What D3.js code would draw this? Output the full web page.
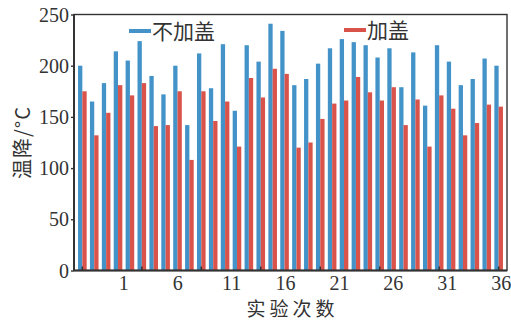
<!DOCTYPE html>
<html>
<head>
<meta charset="utf-8">
<script src="https://cdn.jsdelivr.net/npm/d3@7/dist/d3.min.js"></script>
<style>
  html, body { margin: 0; padding: 0; background: #fff; }
  svg { display: block; }
  .num { font-family: "Liberation Serif", "DejaVu Serif", serif; font-size: 20px; fill: #333; }
  .cjk { font-family: "Noto Sans CJK SC", sans-serif; fill: #333; }
</style>
</head>
<body>
<svg id="chart" width="511" height="321"></svg>
<script>
// Experiment numbers 1..36
const runs = d3.range(1, 37);

// Temperature drop (°C) per run, without and with a lid
const openDrop = [200, 165, 183, 214, 205, 224, 190, 172, 200, 142,
                  212, 178, 221, 156, 220, 204, 241, 234, 181, 187,
                  202, 217, 226, 223, 220, 208, 217, 179, 213, 161,
                  220, 204, 181, 187, 207, 200];
const lidDrop  = [175, 132, 154, 181, 171, 183, 141, 142, 175, 108,
                  175, 146, 165, 121, 188, 169, 197, 192, 120, 125,
                  148, 163, 166, 189, 174, 166, 179, 142, 167, 121,
                  171, 158, 132, 144, 162, 160];

const seriesNames = ["不加盖", "加盖"];
const seriesColors = ["#4393c9", "#d9534a"];
const yTicks = [0, 50, 100, 150, 200, 250];
const xTickRuns = [1, 6, 11, 16, 21, 26, 31, 36];

const svg = d3.select("#chart");
const plotL = 74, plotR = 507, plotT = 14.5, plotB = 270.5;

const x = d3.scaleBand().domain(runs).range([plotL, plotR])
  .paddingInner(0.277).paddingOuter(0.34);
const sub = d3.scaleBand().domain([0, 1]).range([0, x.bandwidth()]);
const y = d3.scaleLinear().domain([0, 250]).range([plotB, plotT]);

// bars
const rows = runs.map((r, i) => ({ run: r, vals: [openDrop[i], lidDrop[i]] }));
const g = svg.append("g");
rows.forEach(d => {
  d.vals.forEach((v, k) => {
    g.append("rect")
      .attr("x", x(d.run) + sub(k))
      .attr("y", y(v))
      .attr("width", sub.bandwidth())
      .attr("height", y(0) - y(v))
      .attr("fill", seriesColors[k]);
  });
});

// frame
svg.append("rect")
  .attr("x", plotL).attr("y", plotT)
  .attr("width", plotR - plotL).attr("height", plotB - plotT)
  .attr("fill", "none").attr("stroke", "#333").attr("stroke-width", 1.4);
svg.append("line")
  .attr("x1", plotL).attr("x2", plotR).attr("y1", plotB).attr("y2", plotB)
  .attr("stroke", "#333").attr("stroke-width", 2);
svg.append("line")
  .attr("x1", plotL).attr("x2", plotL).attr("y1", plotT).attr("y2", plotB)
  .attr("stroke", "#333").attr("stroke-width", 2);

// y axis
const yAxis = svg.append("g").attr("transform", `translate(${plotL},0)`)
  .call(d3.axisLeft(y).tickValues(yTicks).tickSize(3).tickPadding(2));
yAxis.select(".domain").remove();
yAxis.selectAll("line").attr("stroke", "#333").attr("stroke-width", 1.4);
yAxis.selectAll("text").attr("class", "num").attr("font-size", null).attr("font-family", null).attr("dy", "0.33em");

// x tick marks (inward) at the group centres
const xAxis = svg.append("g").attr("transform", `translate(0,${plotB})`)
  .call(d3.axisBottom(x).tickValues(xTickRuns).tickSizeInner(-4).tickSizeOuter(0).tickFormat(""));
xAxis.select(".domain").remove();
xAxis.selectAll("line").attr("stroke", "#333").attr("stroke-width", 1.5);

// x tick labels on their own evenly spaced axis
const xl = d3.scaleLinear().domain([1, 36])
  .range([x(1) + x.bandwidth() / 2 + 41, x(36) + x.bandwidth() / 2 + 2]);
const xLab = svg.append("g").attr("transform", `translate(0,${plotB})`)
  .call(d3.axisBottom(xl).tickValues(xTickRuns).tickSize(0).tickPadding(5).tickFormat(d3.format("d")));
xLab.select(".domain").remove();
xLab.selectAll("text").attr("class", "num").attr("font-size", null).attr("font-family", null);

// axis titles
svg.append("text").attr("class", "cjk")
  .attr("x", (plotL + plotR) / 2 + 2).attr("y", 316)
  .attr("text-anchor", "middle").attr("font-size", 19).attr("letter-spacing", 4)
  .text("实验次数");
svg.append("text").attr("class", "cjk")
  .attr("transform", `translate(30,${(plotT + plotB) / 2}) rotate(-90)`)
  .attr("text-anchor", "middle").attr("font-size", 20).attr("letter-spacing", 1)
  .text("温降/°C");

// legend
const legendPos = [[129, 31], [344, 30]];
seriesNames.forEach((name, k) => {
  const [lx, ly] = legendPos[k];
  svg.append("line")
    .attr("x1", lx).attr("x2", lx + 22).attr("y1", ly).attr("y2", ly)
    .attr("stroke", seriesColors[k]).attr("stroke-width", 4);
  svg.append("text").attr("class", "cjk")
    .attr("x", lx + 23).attr("y", ly + 7.5)
    .attr("font-size", 21)
    .text(name);
});
</script>
</body>
</html>
